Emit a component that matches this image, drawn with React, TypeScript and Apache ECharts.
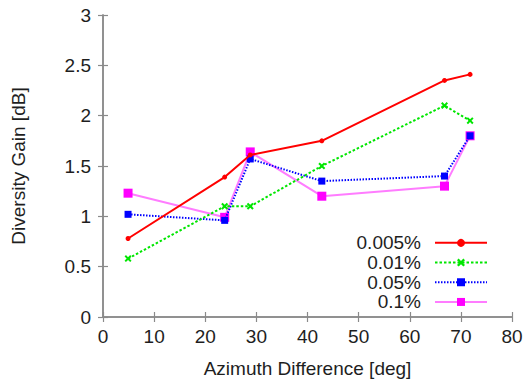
import React, { useEffect, useRef } from "react";
import * as echarts from "echarts";

const azimuth = [4.9, 23.8, 28.8, 42.8, 66.8, 71.8];
const seriesNames = ["0.005%", "0.01%", "0.05%", "0.1%"];
const gain0005 = [0.78, 1.39, 1.61, 1.75, 2.35, 2.41];
const gain001 = [0.58, 1.1, 1.1, 1.5, 2.1, 1.95];
const gain005 = [1.02, 0.96, 1.57, 1.35, 1.4, 1.8];
const gain01 = [1.23, 0.99, 1.64, 1.2, 1.3, 1.8];

const xName = "Azimuth Difference [deg]";
const yName = "Diversity Gain [dB]";

const font = "'Liberation Sans', Arial, sans-serif";
const textColor = "#1e1e1e";
const frameColor = "#8a8a8a";
const fs = 19;

const pair = (ys: number[]) => azimuth.map((x, i) => [x, ys[i]]);

const xMark = "path://M0,2L2,0L5,3L8,0L10,2L7,5L10,8L8,10L5,7L2,10L0,8L3,5Z";

export default function App() {
  const ref = useRef<HTMLDivElement>(null);
  useEffect(() => {
    if (!ref.current) return;
    const chart = echarts.init(ref.current, null, { renderer: "svg" });
    const axisCommon = {
      axisLine: { show: true, lineStyle: { color: frameColor, width: 1.5 } },
      axisTick: { show: true, inside: true, length: 5, lineStyle: { color: frameColor, width: 1.2 } },
      splitLine: { show: false },
    };
    chart.setOption({
      animation: false,
      backgroundColor: "#ffffff",
      grid: { left: 103, right: 18, top: 15, bottom: 66, show: false },
      xAxis: [
        {
          type: "value",
          min: 0,
          max: 80,
          interval: 10,
          name: xName,
          nameLocation: "middle",
          nameGap: 42,
          nameTextStyle: { fontSize: fs, color: textColor, fontFamily: font },
          axisLabel: { fontSize: fs, color: textColor, fontFamily: font, margin: 10 },
          ...axisCommon,
        },
        {
          type: "value",
          position: "top",
          min: 0,
          max: 80,
          interval: 10,
          axisLabel: { show: false },
          ...axisCommon,
        },
      ],
      yAxis: [
        {
          type: "value",
          min: 0,
          max: 3,
          interval: 0.5,
          name: yName,
          nameLocation: "middle",
          nameGap: 75,
          nameTextStyle: { fontSize: fs, color: textColor, fontFamily: font },
          axisLabel: { fontSize: fs, color: textColor, fontFamily: font, margin: 12 },
          ...axisCommon,
        },
        {
          type: "value",
          position: "right",
          min: 0,
          max: 3,
          interval: 0.5,
          axisLabel: { show: false },
          ...axisCommon,
        },
      ],
      legend: {
        orient: "vertical",
        right: 42,
        top: 233,
        padding: 0,
        align: "right",
        itemWidth: 52,
        itemHeight: 10,
        itemGap: 0,
        textStyle: { fontSize: fs, color: textColor, fontFamily: font, lineHeight: 19.7, padding: [0, 9, 0, 0] },
        data: seriesNames,
      },
      series: [
        {
          name: seriesNames[0],
          type: "line",
          data: pair(gain0005),
          symbol: "circle",
          symbolSize: 5,
          lineStyle: { color: "#ff0000", width: 2 },
          itemStyle: { color: "#ff0000" },
          z: 5,
        },
        {
          name: seriesNames[1],
          type: "line",
          data: pair(gain001),
          symbol: xMark,
          symbolSize: 7,
          lineStyle: { color: "#00e600", width: 2, type: [2.5, 2] },
          itemStyle: { color: "#00e600" },
          z: 4,
        },
        {
          name: seriesNames[2],
          type: "line",
          data: pair(gain005),
          symbol: "rect",
          symbolSize: 7,
          lineStyle: { color: "#0000ff", width: 2, type: [1.5, 1.5] },
          itemStyle: { color: "#0000ff" },
          z: 3,
        },
        {
          name: seriesNames[3],
          type: "line",
          data: pair(gain01),
          symbol: "rect",
          symbolSize: 9,
          lineStyle: { color: "#ff7cff", width: 2 },
          itemStyle: { color: "#ff00ff" },
          z: 2,
        },
      ],
    });
    return () => chart.dispose();
  }, []);
  return <div ref={ref} style={{ width: 530, height: 383, position: "absolute", left: 0, top: 0 }} />;
}
